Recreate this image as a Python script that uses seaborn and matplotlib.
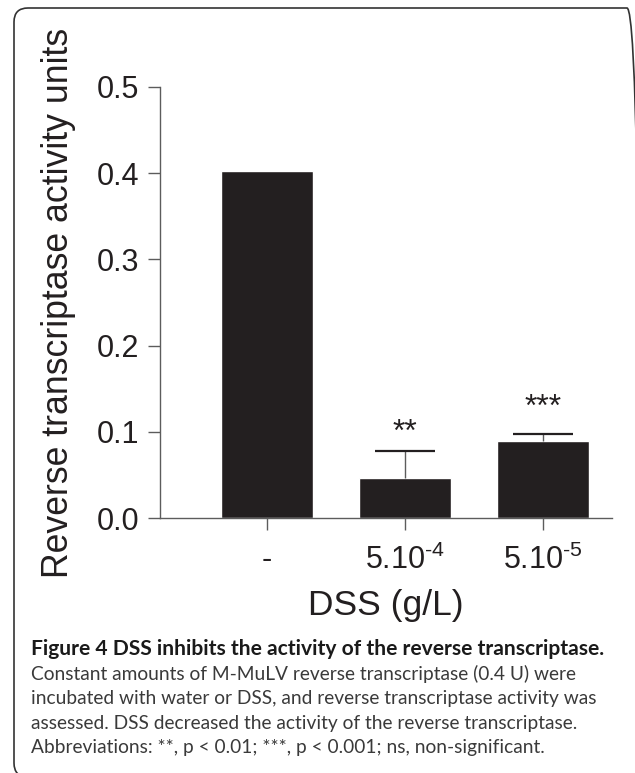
import numpy as np
import pandas as pd
import matplotlib
matplotlib.use("Agg")
import matplotlib.pyplot as plt
from matplotlib.patches import FancyBboxPatch
import seaborn as sns

# data
doses = ["-", r"$\mathregular{5.10^{\text{-4}}}$", r"$\mathregular{5.10^{\text{-5}}}$"]
activity = [0.402, 0.0465, 0.0895]
sem = [0.0, 0.0315, 0.0082]
stars = ["", "**", "***"]
star_y = [0.0, 0.089, 0.119]

caption_title = "Figure 4 DSS inhibits the activity of the reverse transcriptase."
caption_lines = [
    "Constant amounts of M-MuLV reverse transcriptase (0.4 U) were",
    "incubated with water or DSS, and reverse transcriptase activity was",
    "assessed. DSS decreased the activity of the reverse transcriptase.",
    "Abbreviations: **, p < 0.01; ***, p < 0.001; ns, non-significant.",
]

sns.set_style("ticks")
plt.rcParams["font.family"] = ["Liberation Sans", "DejaVu Sans"]
plt.rcParams["mathtext.fontset"] = "custom"
plt.rcParams["mathtext.rm"] = "Liberation Sans"

W, H = 635, 773
fig = plt.figure(figsize=(W / 100, H / 100), dpi=100)
ax = fig.add_axes([160 / W, 1 - 518 / H, 452 / W, 431 / H])

df = pd.DataFrame({"dose": doses, "activity": activity})
ink = "#231f20"
grey = "#5c5c5c"
sns.barplot(data=df, x="dose", y="activity", order=doses, color=ink,
            saturation=1, width=0.66, errorbar=None, ax=ax)

# upper error bars only (stem + top cap)
x = np.arange(len(doses))
err = np.array(sem)
vals = np.array(activity)
m = err > 0
ax.vlines(x[m], vals[m], vals[m] + err[m], color=grey, lw=1.0, zorder=1)
ax.hlines(vals[m] + err[m], x[m] - 0.215, x[m] + 0.215, color=ink, lw=1.6,
          zorder=3)

for i, s in enumerate(stars):
    if s:
        ax.text(i, star_y[i], s, ha="center", va="baseline",
                fontsize=23, color=ink)

ax.set_xlim(-0.775, 2.5)
ax.set_ylim(0, 0.5)
ax.set_yticks([0.0, 0.1, 0.2, 0.3, 0.4, 0.5])
ax.set_yticklabels(["0.0", "0.1", "0.2", "0.3", "0.4", "0.5"])
ax.set_xticks(x)
ax.set_xticklabels(doses)

sns.despine(ax=ax)
for side in ["left", "bottom"]:
    ax.spines[side].set_color(grey)
    ax.spines[side].set_linewidth(1.0)
ax.tick_params(axis="both", colors=grey, labelcolor=ink, labelsize=22,
               length=8.5, width=1.0)
ax.tick_params(axis="y", pad=6.5)
ax.tick_params(axis="x", pad=11)

ax.set_ylabel("Reverse transcriptase activity units", fontsize=25.7, color=ink)
ax.yaxis.set_label_coords(-0.186, 0.5)
ax.set_xlabel("DSS (g/L)", fontsize=25.5, color=ink, labelpad=9)

# rounded frame round the whole panel (runs off right and bottom)
frame = FancyBboxPatch((14, -4), 641 - 14, H - 8 + 4,
                       boxstyle="round,pad=0,rounding_size=14",
                       transform=None, fill=False, edgecolor="#333333",
                       linewidth=1.2, clip_on=False)
fig.patches.append(frame)

cap_font = ["Lato", "DejaVu Sans"]
fig.text(31 / W, 1 - 655 / H, caption_title, fontsize=15.1,
         fontweight="bold", family=cap_font, color="#1a1a1a", va="baseline")
for k, line in enumerate(caption_lines):
    fig.text(31 / W, 1 - (680 + 24.4 * k) / H, line, fontsize=13.8,
             family=cap_font, color="#3a3a3a", va="baseline")

fig.savefig("out.png", dpi=100)
